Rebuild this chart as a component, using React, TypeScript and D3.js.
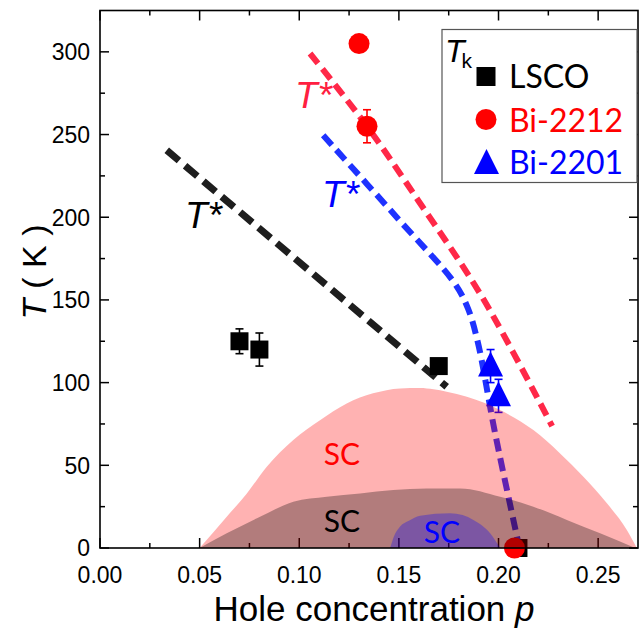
import React from "react";
import * as d3 from "d3";

// ---- data ----
const lscoP = [0.07, 0.08, 0.17, 0.21];
const lscoT = [125, 120, 110, 0];
const lscoErr = [7.5, 10, 0, 0];

const bi2212P = [0.13, 0.134, 0.208];
const bi2212T = [305, 255, 0];
const bi2212Err = [0, 10, 0];

const bi2201P = [0.196, 0.2];
const bi2201T = [110, 92];
const bi2201Err = [10, 10];

const tStarLscoP = [0.0335, 0.174];
const tStarLscoT = [240.5, 97.5];
const tStar2212P = [0.1054, 0.134, 0.1596, 0.1918, 0.2269];
const tStar2212T = [299, 255, 210.3, 151.7, 73.7];
const tStar2201P = [0.112, 0.15, 0.178, 0.1846, 0.1895, 0.1983, 0.2105];
const tStar2201T = [249.5, 198.5, 160, 145, 125, 69.3, 0];

const scBiP = [0.05, 0.0636, 0.0737, 0.0837, 0.097, 0.1104, 0.1238, 0.137, 0.1506, 0.1606, 0.1674, 0.174, 0.1841, 0.2008, 0.2175, 0.2309, 0.2426, 0.2544, 0.2644, 0.2694];
const scBiT = [0, 18.9, 33, 49.1, 65.3, 77.3, 87.4, 93.5, 96.5, 96.8, 96, 94.5, 91.4, 83.4, 71.3, 57.2, 43.1, 27, 10.9, 0];
const scLscoP = [0.05, 0.0636, 0.0803, 0.097, 0.1138, 0.1305, 0.1472, 0.164, 0.1807, 0.2008, 0.2175, 0.2343, 0.251, 0.2686];
const scLscoT = [0, 8.9, 18.9, 28, 31, 33, 35, 36, 36, 31, 25, 17, 8.9, 0];
const sc2201P = [0.1456, 0.1475, 0.1506, 0.155, 0.1606, 0.1757, 0.182, 0.1874, 0.1958, 0.2008];
const sc2201T = [0, 7, 13, 16.5, 19.5, 21, 20, 16.9, 8.9, 0];

const xTicks = [0, 0.05, 0.1, 0.15, 0.2, 0.25];
const xMinor = [0.025, 0.075, 0.125, 0.175, 0.225];
const yTicks = [0, 50, 100, 150, 200, 250, 300];
const yMinor = [25, 75, 125, 175, 225, 275];

const legendLabels = ["LSCO", "Bi-2212", "Bi-2201"];

// ---- layout ----
const W = 644, H = 631;
const L = 100, R = 638, T = 10.5, B = 548;
const x = d3.scaleLinear().domain([0, 0.27]).range([L, R]);
const y = d3.scaleLinear().domain([0, 325]).range([B, T]);

const zip = (a: number[], b: number[]) => a.map((v, i) => [v, b[i]] as [number, number]);

const line = d3.line<[number, number]>().x(d => x(d[0])).y(d => y(d[1]));
const smooth = d3.line<[number, number]>().x(d => x(d[0])).y(d => y(d[1])).curve(d3.curveCatmullRom.alpha(0.5));
const area = d3.area<[number, number]>().x(d => x(d[0])).y0(y(0)).y1(d => y(d[1])).curve(d3.curveMonotoneX);

const ARIAL = "'Liberation Sans', Arial, sans-serif";
const CAL = "Lato, 'Open Sans', sans-serif";

function ErrBar({ px, py, e, color }: { px: number; py: number; e: number; color: string }) {
  if (!e) return null;
  const cx = x(px), y1 = y(py + e), y2 = y(py - e);
  return (
    <g stroke={color} strokeWidth={1.6}>
      <line x1={cx} x2={cx} y1={y1} y2={y2} />
      <line x1={cx - 4} x2={cx + 4} y1={y1} y2={y1} />
      <line x1={cx - 4} x2={cx + 4} y1={y2} y2={y2} />
    </g>
  );
}

const triPath = (cx: number, cy: number, s: number) =>
  `M${cx},${cy - s * 0.58}L${cx + s / 2},${cy + s * 0.42}L${cx - s / 2},${cy + s * 0.42}Z`;

export default function App() {
  return (
    <svg width={W} height={H} style={{ position: "absolute", left: 0, top: 0, background: "#fff" }}>
      <rect x={0} y={0} width={W} height={H} fill="#fff" />
      {/* ticks (under domes) */}
      <g stroke="#000" strokeWidth={1.5}>
        {xTicks.map(t => (
          <g key={"xt" + t}>
            <line x1={x(t)} x2={x(t)} y1={B} y2={B - 10} />
            <line x1={x(t)} x2={x(t)} y1={T} y2={T + 10} />
          </g>
        ))}
        {xMinor.map(t => (
          <g key={"xm" + t}>
            <line x1={x(t)} x2={x(t)} y1={B} y2={B - 5} />
            <line x1={x(t)} x2={x(t)} y1={T} y2={T + 5} />
          </g>
        ))}
        {yTicks.map(t => (
          <g key={"yt" + t}>
            <line x1={L} x2={L + 9} y1={y(t)} y2={y(t)} />
            <line x1={R} x2={R - 9} y1={y(t)} y2={y(t)} />
          </g>
        ))}
        {yMinor.map(t => (
          <g key={"ym" + t}>
            <line x1={L} x2={L + 5} y1={y(t)} y2={y(t)} />
            <line x1={R} x2={R - 5} y1={y(t)} y2={y(t)} />
          </g>
        ))}
      </g>

      {/* T* lines */}
      <path d={line(zip(tStarLscoP, tStarLscoT)) || ""} fill="none" stroke="#1e1e1e" strokeWidth={7} strokeDasharray="16 8" />
      <path d={smooth(zip(tStar2212P, tStar2212T)) || ""} fill="none" stroke="#ff2848" strokeWidth={6} strokeDasharray="13 7" />
      <path d={smooth(zip(tStar2201P, tStar2201T)) || ""} fill="none" stroke="#1e32ff" strokeWidth={6} strokeDasharray="13 7" />

      {/* markers */}
      {lscoP.map((p, i) => (
        <g key={"l" + i}>
          <ErrBar px={p} py={lscoT[i]} e={lscoErr[i]} color="#000" />
          <rect x={x(p) - 9} y={y(lscoT[i]) - 9} width={18} height={18} fill="#000" />
        </g>
      ))}
      {bi2212P.map((p, i) => (
        <g key={"r" + i}>
          <ErrBar px={p} py={bi2212T[i]} e={bi2212Err[i]} color="#ff0000" />
          <circle cx={x(p)} cy={y(bi2212T[i])} r={10.5} fill="#ff0000" />
        </g>
      ))}
      {bi2201P.map((p, i) => (
        <g key={"b" + i}>
          <ErrBar px={p} py={bi2201T[i]} e={bi2201Err[i]} color="#0000ff" />
          <path d={triPath(x(p), y(bi2201T[i]), 25)} fill="#0000ff" />
        </g>
      ))}

      {/* SC domes */}
      <path d={area(zip(scBiP, scBiT)) || ""} fill="rgb(255,0,0)" fillOpacity={0.3} />
      <path d={area(zip(scLscoP, scLscoT)) || ""} fill="rgb(0,0,0)" fillOpacity={0.3} />
      <path d={area(zip(sc2201P, sc2201T)) || ""} fill="rgb(0,0,255)" fillOpacity={0.3} />

      {/* SC labels */}
      <g fontFamily={CAL} fontSize={30} textAnchor="middle">
        <text x={342} y={465} fill="#ff0000">SC</text>
        <text x={342} y={531.5} fill="#000">SC</text>
        <text x={442} y={543} fill="#0000ff">SC</text>
      </g>

      {/* T* labels */}
      <g fontFamily={ARIAL} fontSize={37} fontStyle="italic">
        <text x={185} y={228} fill="#000">T*</text>
        <text x={295} y={108} fill="#ff2040">T*</text>
        <text x={322} y={206.5} fill="#0000ff">T*</text>
      </g>

      {/* frame */}
      <rect x={L} y={T} width={R - L} height={B - T} fill="none" stroke="#000" strokeWidth={1.6} />

      {/* tick labels */}
      <g fontFamily={ARIAL} fontSize={23} fill="#000">
        {xTicks.map(t => (
          <text key={"xl" + t} x={x(t)} y={583} textAnchor="middle">{d3.format(".2f")(t)}</text>
        ))}
        {yTicks.map(t => (
          <text key={"yl" + t} x={90} y={y(t)} dy="0.36em" textAnchor="end">{t}</text>
        ))}
      </g>

      {/* axis titles */}
      <text x={374} y={621} textAnchor="middle" fontFamily={ARIAL} fontSize={35}>
        Hole concentration <tspan fontStyle="italic">p</tspan>
      </text>
      <text transform={`translate(46,272) rotate(-90)`} textAnchor="middle" fontFamily={ARIAL} fontSize={34}>
        <tspan fontStyle="italic">T</tspan><tspan dx={10}>( K )</tspan>
      </text>

      {/* legend */}
      <rect x={442} y={29.5} width={195} height={153} fill="#fff" stroke="#555" strokeWidth={1.2} />
      <text x={445} y={61.5} fontFamily={ARIAL} fontSize={32}>
        <tspan fontStyle="italic">T</tspan>
        <tspan fontSize={21} dx={-3} dy={6.5}>k</tspan>
      </text>
      <rect x={476.5} y={67} width={19} height={19} fill="#000" />
      <circle cx={486} cy={119.5} r={10.5} fill="#ff0000" />
      <path d={triPath(486.5, 163.5, 25)} fill="#0000ff" />
      <g fontFamily={CAL} fontSize={32}>
        <text x={509} y={88} fill="#000">{legendLabels[0]}</text>
        <text x={509} y={131.5} fill="#ff0000">{legendLabels[1]}</text>
        <text x={509} y={174} fill="#0000ff">{legendLabels[2]}</text>
      </g>
    </svg>
  );
}
